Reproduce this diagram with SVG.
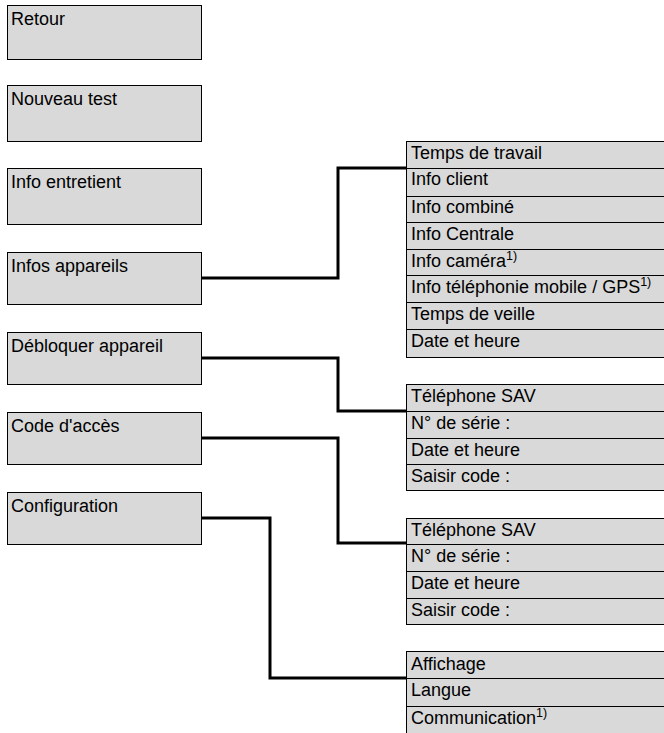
<svg xmlns="http://www.w3.org/2000/svg" width="664" height="733" viewBox="0 0 664 733">
  <style>
    .box{fill:#d9d9d9;stroke:#000;stroke-width:1}
    .sep{stroke:#000;stroke-width:1}
    .lbl{font-family:"Liberation Sans",Arial,Helvetica,sans-serif;font-size:18px;fill:#000}
    .sup{font-size:12.5px}
    .wire{fill:none;stroke:#000;stroke-width:3;stroke-linejoin:miter}
  </style>
  <rect width="664" height="733" fill="#fff"/>

  <!-- main menu entries -->
  <g id="retour">
    <rect class="box" x="7.5" y="5.5" width="194" height="54"/>
    <text class="lbl" x="11" y="25">Retour</text>
  </g>
  <g id="nouveau-test">
    <rect class="box" x="7.5" y="85.5" width="194" height="56"/>
    <text class="lbl" x="11" y="105">Nouveau test</text>
  </g>
  <g id="info-entretient">
    <rect class="box" x="7.5" y="168.5" width="194" height="56"/>
    <text class="lbl" x="11" y="188">Info entretient</text>
  </g>
  <g id="infos-appareils">
    <rect class="box" x="7.5" y="252.5" width="194" height="52"/>
    <text class="lbl" x="11" y="272">Infos appareils</text>
  </g>
  <g id="debloquer-appareil">
    <rect class="box" x="7.5" y="332.5" width="194" height="52"/>
    <text class="lbl" x="11" y="352">Débloquer appareil</text>
  </g>
  <g id="code-acces">
    <rect class="box" x="7.5" y="412.5" width="194" height="52"/>
    <text class="lbl" x="11" y="432">Code d'accès</text>
  </g>
  <g id="configuration">
    <rect class="box" x="7.5" y="492.5" width="194" height="52"/>
    <text class="lbl" x="11" y="512">Configuration</text>
  </g>

  <!-- sub menu: Infos appareils -->
  <g id="menu-infos-appareils">
    <rect class="box" x="406.5" y="141.5" width="270" height="216"/>
    <line class="sep" x1="406.5" y1="168.5" x2="670" y2="168.5"/>
    <line class="sep" x1="406.5" y1="196.5" x2="670" y2="196.5"/>
    <line class="sep" x1="406.5" y1="222.5" x2="670" y2="222.5"/>
    <line class="sep" x1="406.5" y1="249.5" x2="670" y2="249.5"/>
    <line class="sep" x1="406.5" y1="275.5" x2="670" y2="275.5"/>
    <line class="sep" x1="406.5" y1="302.5" x2="670" y2="302.5"/>
    <line class="sep" x1="406.5" y1="329.5" x2="670" y2="329.5"/>
    <text class="lbl" x="411" y="159">Temps de travail</text>
    <text class="lbl" x="411" y="185">Info client</text>
    <text class="lbl" x="411" y="213">Info combiné</text>
    <text class="lbl" x="411" y="240">Info Centrale</text>
    <text class="lbl" x="411" y="267">Info caméra<tspan class="sup" dy="-7">1)</tspan></text>
    <text class="lbl" x="411" y="293">Info téléphonie mobile / GPS<tspan class="sup" dy="-7">1)</tspan></text>
    <text class="lbl" x="411" y="320">Temps de veille</text>
    <text class="lbl" x="411" y="347">Date et heure</text>
  </g>

  <!-- sub menu: Débloquer appareil -->
  <g id="menu-debloquer">
    <rect class="box" x="406.5" y="384.5" width="270" height="106"/>
    <line class="sep" x1="406.5" y1="411.5" x2="670" y2="411.5"/>
    <line class="sep" x1="406.5" y1="438.5" x2="670" y2="438.5"/>
    <line class="sep" x1="406.5" y1="464.5" x2="670" y2="464.5"/>
    <text class="lbl" x="411" y="402">Téléphone SAV</text>
    <text class="lbl" x="411" y="429">N° de série :</text>
    <text class="lbl" x="411" y="456">Date et heure</text>
    <text class="lbl" x="411" y="482">Saisir code :</text>
  </g>

  <!-- sub menu: Code d'accès -->
  <g id="menu-code-acces">
    <rect class="box" x="406.5" y="518.5" width="270" height="106"/>
    <line class="sep" x1="406.5" y1="544.5" x2="670" y2="544.5"/>
    <line class="sep" x1="406.5" y1="571.5" x2="670" y2="571.5"/>
    <line class="sep" x1="406.5" y1="598.5" x2="670" y2="598.5"/>
    <text class="lbl" x="411" y="536">Téléphone SAV</text>
    <text class="lbl" x="411" y="562">N° de série :</text>
    <text class="lbl" x="411" y="589">Date et heure</text>
    <text class="lbl" x="411" y="616">Saisir code :</text>
  </g>

  <!-- sub menu: Configuration -->
  <g id="menu-configuration">
    <rect class="box" x="406.5" y="651.5" width="270" height="100"/>
    <line class="sep" x1="406.5" y1="678.5" x2="670" y2="678.5"/>
    <line class="sep" x1="406.5" y1="706.5" x2="670" y2="706.5"/>
    <text class="lbl" x="411" y="670">Affichage</text>
    <text class="lbl" x="411" y="696">Langue</text>
    <text class="lbl" x="411" y="724">Communication<tspan class="sup" dy="-7">1)</tspan></text>
  </g>

  <!-- connectors -->
  <g id="connectors">
    <polyline class="wire" points="202,278 338,278 338,168 407,168"/>
    <polyline class="wire" points="202,358 338,358 338,411 407,411"/>
    <polyline class="wire" points="202,438 338,438 338,543 407,543"/>
    <polyline class="wire" points="202,518 270,518 270,678 407,678"/>
  </g>
</svg>
